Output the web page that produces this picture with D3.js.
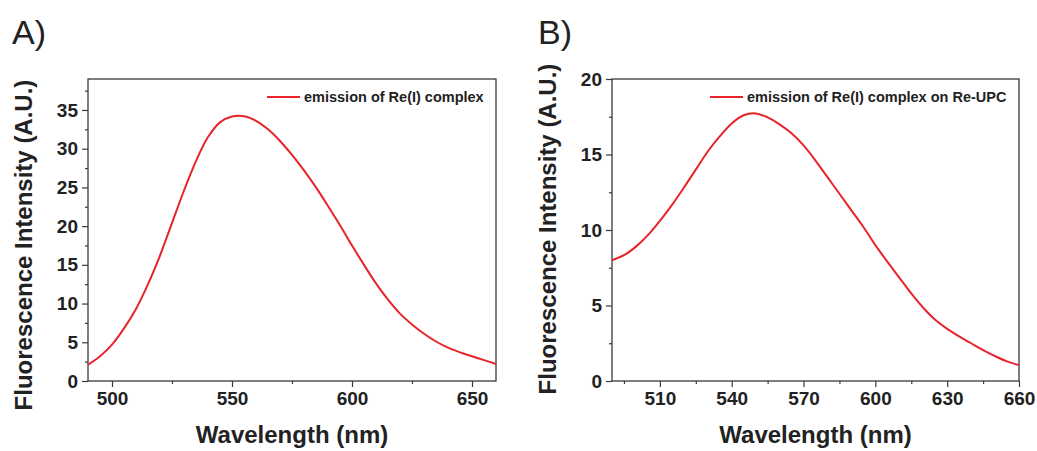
<!DOCTYPE html>
<html>
<head>
<meta charset="utf-8">
<script src="https://cdn.jsdelivr.net/npm/d3@7"></script>
<style>
  body { margin: 0; background: #fff; }
  text { font-family: 'Liberation Sans', Arial, sans-serif; fill: #222; }
</style>
</head>
<body>
<div id="chart"></div>
<script>
// Wavelength grid (nm), shared by both spectra
const wavelengths = [490, 495, 500, 505, 510, 515, 520, 525, 530, 535, 540, 545, 550, 555, 560,
                     565, 570, 575, 580, 585, 590, 595, 600, 605, 610, 615, 620, 625, 630, 635,
                     640, 645, 650, 655, 660];

// A) emission of Re(I) complex
const emissionA = [2.1, 3.2, 4.7, 6.8, 9.3, 12.5, 16.2, 20.4, 24.6, 28.4, 31.5, 33.4, 34.15, 34.2, 33.6,
                   32.5, 31.0, 29.2, 27.2, 25.0, 22.6, 20.1, 17.5, 15.0, 12.6, 10.5, 8.7, 7.3, 6.1, 5.1,
                   4.3, 3.7, 3.2, 2.7, 2.2];

// B) emission of Re(I) complex on Re-UPC
const emissionB = [8.0, 8.33, 8.9, 9.66, 10.6, 11.65, 12.8, 14.0, 15.2, 16.2, 17.06, 17.6, 17.72, 17.46, 17.0,
                   16.4, 15.6, 14.6, 13.5, 12.4, 11.3, 10.2, 9.0, 7.9, 6.85, 5.8, 4.85, 4.05, 3.45, 2.95,
                   2.5, 2.05, 1.65, 1.3, 1.05];

const ticksAx = [500, 550, 600, 650];
const minorAx = [525, 575, 625];
const ticksAy = [0, 5, 10, 15, 20, 25, 30, 35];
const minorAy = [2.5, 7.5, 12.5, 17.5, 22.5, 27.5, 32.5, 37.5];

const ticksBx = [510, 540, 570, 600, 630, 660];
const minorBx = [495, 525, 555, 585, 615, 645];
const ticksBy = [0, 5, 10, 15, 20];
const minorBy = [2.5, 7.5, 12.5, 17.5];

const legendA = 'emission of Re(I) complex';
const legendB = 'emission of Re(I) complex on Re-UPC';
const xTitle = 'Wavelength (nm)';
const yTitle = 'Fluorescence Intensity (A.U.)';

const lineColor = '#e8242a';
const frameColor = '#3a3a3a';

const svg = d3.select('#chart')
  .append('svg')
    .attr('width', 1037)
    .attr('height', 451);

const panels = [
  { tag: 'A)', tagX: 12, left: 88, right: 496, top: 79, bottom: 381,
    yMax: 39, values: emissionA, xt: ticksAx, xm: minorAx, yt: ticksAy, ym: minorAy,
    legend: legendA, legX: 267, yTitleMid: 245 },
  { tag: 'B)', tagX: 538, left: 612, right: 1019, top: 79, bottom: 381,
    yMax: 20, values: emissionB, xt: ticksBx, xm: minorBx, yt: ticksBy, ym: minorBy,
    legend: legendB, legX: 710, yTitleMid: 229 }
];

panels.forEach(function(p) {
  const x = d3.scaleLinear().domain([490, 660]).range([p.left, p.right]);
  const y = d3.scaleLinear().domain([0, p.yMax]).range([p.bottom, p.top]);

  // panel label
  svg.append('text')
    .attr('x', p.tagX)
    .attr('y', 44)
    .style('font-size', '34px')
    .text(p.tag);

  // minor ticks
  svg.append('g')
    .attr('transform', 'translate(0,' + p.bottom + ')')
    .call(d3.axisBottom(x).tickValues(p.xm).tickSize(3).tickFormat(''))
    .call(g => g.select('.domain').remove())
    .call(g => g.selectAll('line').attr('stroke', frameColor).attr('stroke-width', 1.2));
  svg.append('g')
    .attr('transform', 'translate(' + p.left + ',0)')
    .call(d3.axisLeft(y).tickValues(p.ym).tickSize(3).tickFormat(''))
    .call(g => g.select('.domain').remove())
    .call(g => g.selectAll('line').attr('stroke', frameColor).attr('stroke-width', 1.2));

  // major ticks + labels
  svg.append('g')
    .attr('transform', 'translate(0,' + p.bottom + ')')
    .call(d3.axisBottom(x).tickValues(p.xt).tickSize(6).tickPadding(5))
    .call(g => g.select('.domain').remove())
    .call(g => g.selectAll('line').attr('stroke', frameColor).attr('stroke-width', 1.2))
    .call(g => g.selectAll('text').attr('fill', '#222')
      .style('font-size', '19px').style('font-weight', 'bold')
      .style('font-family', "'Liberation Sans', Arial, sans-serif"));
  svg.append('g')
    .attr('transform', 'translate(' + p.left + ',0)')
    .call(d3.axisLeft(y).tickValues(p.yt).tickSize(6).tickPadding(4))
    .call(g => g.select('.domain').remove())
    .call(g => g.selectAll('line').attr('stroke', frameColor).attr('stroke-width', 1.2))
    .call(g => g.selectAll('text').attr('fill', '#222')
      .style('font-size', '19px').style('font-weight', 'bold')
      .style('font-family', "'Liberation Sans', Arial, sans-serif"));

  // frame
  svg.append('rect')
    .attr('x', p.left)
    .attr('y', p.top)
    .attr('width', p.right - p.left)
    .attr('height', p.bottom - p.top)
    .attr('fill', 'none')
    .attr('stroke', frameColor)
    .attr('stroke-width', 1.3);

  // spectrum
  const line = d3.line()
    .x((d, i) => x(wavelengths[i]))
    .y(d => y(d))
    .curve(d3.curveCatmullRom.alpha(0.5));
  svg.append('path')
    .datum(p.values)
    .attr('d', line)
    .attr('fill', 'none')
    .attr('stroke', lineColor)
    .attr('stroke-width', 2);

  // legend
  svg.append('line')
    .attr('x1', p.legX).attr('x2', p.legX + 33)
    .attr('y1', 97).attr('y2', 97)
    .attr('stroke', lineColor)
    .attr('stroke-width', 2);
  svg.append('text')
    .attr('x', p.legX + 37)
    .attr('y', 102)
    .style('font-size', '14.5px')
    .style('font-weight', 'bold')
    .text(p.legend);

  // axis titles
  svg.append('text')
    .attr('x', (p.left + p.right) / 2)
    .attr('y', 443)
    .attr('text-anchor', 'middle')
    .style('font-size', '24px')
    .style('font-weight', 'bold')
    .text(xTitle);
  svg.append('text')
    .attr('transform', 'translate(' + (p.left - 56) + ',' + p.yTitleMid + ') rotate(-90)')
    .attr('text-anchor', 'middle')
    .style('font-size', '24px')
    .style('font-weight', 'bold')
    .text(yTitle);
});
</script>
</body>
</html>
